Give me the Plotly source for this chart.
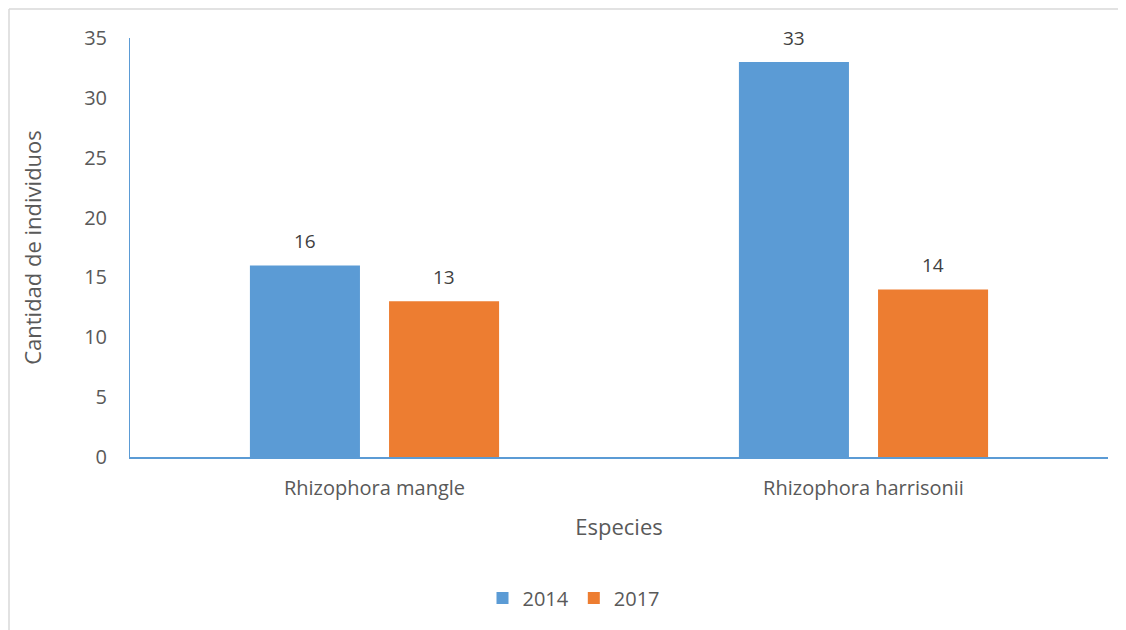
import plotly.graph_objects as go

categories = ["Rhizophora mangle", "Rhizophora harrisonii"]
series_names = ["2014", "2017"]
values_2014 = [16, 33]
values_2017 = [13, 14]
y_ticks = [0, 5, 10, 15, 20, 25, 30, 35]

colors = ["#5B9BD5", "#ED7D31"]
font_family = "Open Sans, Liberation Sans, sans-serif"
text_color = "#595959"

fig = go.Figure()
for name, vals, col in zip(series_names, [values_2014, values_2017], colors):
    fig.add_trace(go.Bar(x=categories, y=vals, name=name, marker=dict(color=col, line=dict(width=0))))

# data labels
offsets = [-0.142, 0.142]
annotations = []
for off, vals in zip(offsets, [values_2014, values_2017]):
    for i, v in enumerate(vals):
        annotations.append(dict(x=i + off, y=v, xref="x", yref="y", text=str(v), showarrow=False,
                                yshift=24, yanchor="middle",
                                font=dict(size=19, color="#404040", family=font_family)))

OFF = 8  # page body margin
W, H = 1126 - OFF, 630 - OFF
L, R, T, B = 130 - OFF, 18, 38 - OFF, 173
pw, ph = W - L - R, H - T - B
def px_to_paper_x(px):
    return (px - OFF - L) / pw
def px_to_paper_y(py):
    return (H - B - (py - OFF)) / ph

fig.update_layout(
    width=W, height=H,
    margin=dict(l=L, r=R, t=T, b=B),
    paper_bgcolor="white", plot_bgcolor="white",
    barmode="group", bargap=0.431, bargroupgap=0.209,
    font=dict(family=font_family, color=text_color, size=18),
    showlegend=True,
    legend=dict(orientation="h", x=px_to_paper_x(574), xanchor="center",
                y=px_to_paper_y(598), yanchor="middle",
                font=dict(size=20, color=text_color), itemwidth=30,
                traceorder="normal"),
    annotations=annotations,
    shapes=[dict(type="line", xref="paper", yref="paper",
                 x0=px_to_paper_x(9), x1=px_to_paper_x(1130), y0=px_to_paper_y(9), y1=px_to_paper_y(9),
                 line=dict(color="#D9D9D9", width=1.5)),
            dict(type="line", xref="paper", yref="paper",
                 x0=px_to_paper_x(9), x1=px_to_paper_x(9), y0=px_to_paper_y(9), y1=px_to_paper_y(640),
                 line=dict(color="#D9D9D9", width=1.5))],
)
fig.update_yaxes(range=[0, 35], tickvals=y_ticks, showgrid=False, zeroline=False,
                 showline=True, linecolor="#5B9BD5", linewidth=1,
                 ticks="", ticklabelstandoff=18,
                 tickfont=dict(size=20, color=text_color),
                 title=dict(text="Cantidad de individuos", font=dict(size=22, color=text_color), standoff=36))
fig.update_xaxes(showgrid=False, showline=True, linecolor="#5B9BD5", linewidth=2,
                 ticks="", ticklabelstandoff=12,
                 tickfont=dict(size=20, color=text_color),
                 title=dict(text="Especies", font=dict(size=22, color=text_color), standoff=20))

fig.write_html("out.html")
